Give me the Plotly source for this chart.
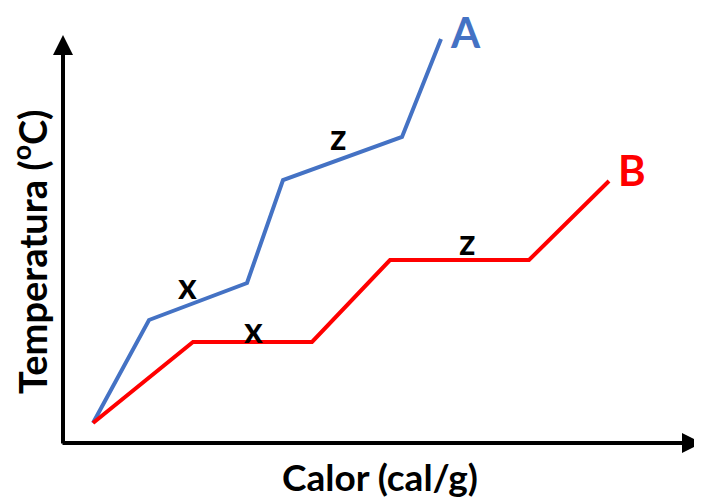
import plotly.graph_objects as go

# Data (arbitrary units)
calor_a = [30, 86, 184, 220, 339, 378]
temp_a = [20, 123, 160, 263, 306, 404]
calor_b = [30, 130, 249, 327, 466, 546]
temp_b = [20, 101, 101, 183, 183, 262]

series_names = ["A", "B"]
phase_labels = ["x", "z"]
x_title = "Calor (cal/g)"
y_title = "Temperatura (<sup>o</sup>C)"

BLUE = "#4472C4"
RED = "#FF0000"
FONT = "Lato"

fig = go.Figure()
fig.add_trace(go.Scatter(x=calor_a, y=temp_a, mode="lines",
                         line=dict(color=BLUE, width=4), name=series_names[0]))
fig.add_trace(go.Scatter(x=calor_b, y=temp_b, mode="lines",
                         line=dict(color=RED, width=4), name=series_names[1]))

ann = []
# axes with arrows
ann.append(dict(x=0, y=408, ax=0, ay=-2, xref="x", yref="y", axref="x", ayref="y",
                text="", showarrow=True, arrowhead=2, arrowsize=1, arrowwidth=4,
                arrowcolor="black"))
ann.append(dict(x=639, y=0, ax=-2, ay=0, xref="x", yref="y", axref="x", ayref="y",
                text="", showarrow=True, arrowhead=2, arrowsize=1, arrowwidth=4,
                arrowcolor="black"))
# series labels
ann.append(dict(x=402, y=411, xref="x", yref="y", text="<b>A</b>", showarrow=False,
                font=dict(family=FONT, size=42, color=BLUE)))
ann.append(dict(x=569, y=273, xref="x", yref="y", text="<b>B</b>", showarrow=False,
                font=dict(family=FONT, size=42, color=RED)))
# phase labels
for (lx, ly, t) in [(124, 158, phase_labels[0]), (190, 114, phase_labels[0]),
                    (275, 307, phase_labels[1]), (404, 202, phase_labels[1])]:
    ann.append(dict(x=lx, y=ly, xref="x", yref="y", text="<b>" + t + "</b>",
                    showarrow=False, font=dict(family=FONT, size=36, color="black")))
# axis titles
ann.append(dict(x=0.49, y=-0.077, xref="paper", yref="paper", text="<b>" + x_title + "</b>",
                xanchor="center", yanchor="middle",
                showarrow=False, font=dict(family=FONT, size=37, color="black")))
ann.append(dict(x=-0.052, y=0.44, xref="paper", yref="paper", text="<b>" + y_title + "</b>",
                xanchor="center", yanchor="middle",
                showarrow=False, textangle=-90,
                font=dict(family=FONT, size=38, color="black")))

fig.update_layout(
    width=702, height=497,
    margin=dict(l=55, r=0, t=0, b=62),
    paper_bgcolor="white", plot_bgcolor="white",
    showlegend=False,
    annotations=ann,
    xaxis=dict(range=[0, 647], showgrid=False, zeroline=False, showticklabels=False,
               ticks="", showline=False),
    yaxis=dict(range=[0, 435], showgrid=False, zeroline=False, showticklabels=False,
               ticks="", showline=False),
)

fig.write_html("out.html")
